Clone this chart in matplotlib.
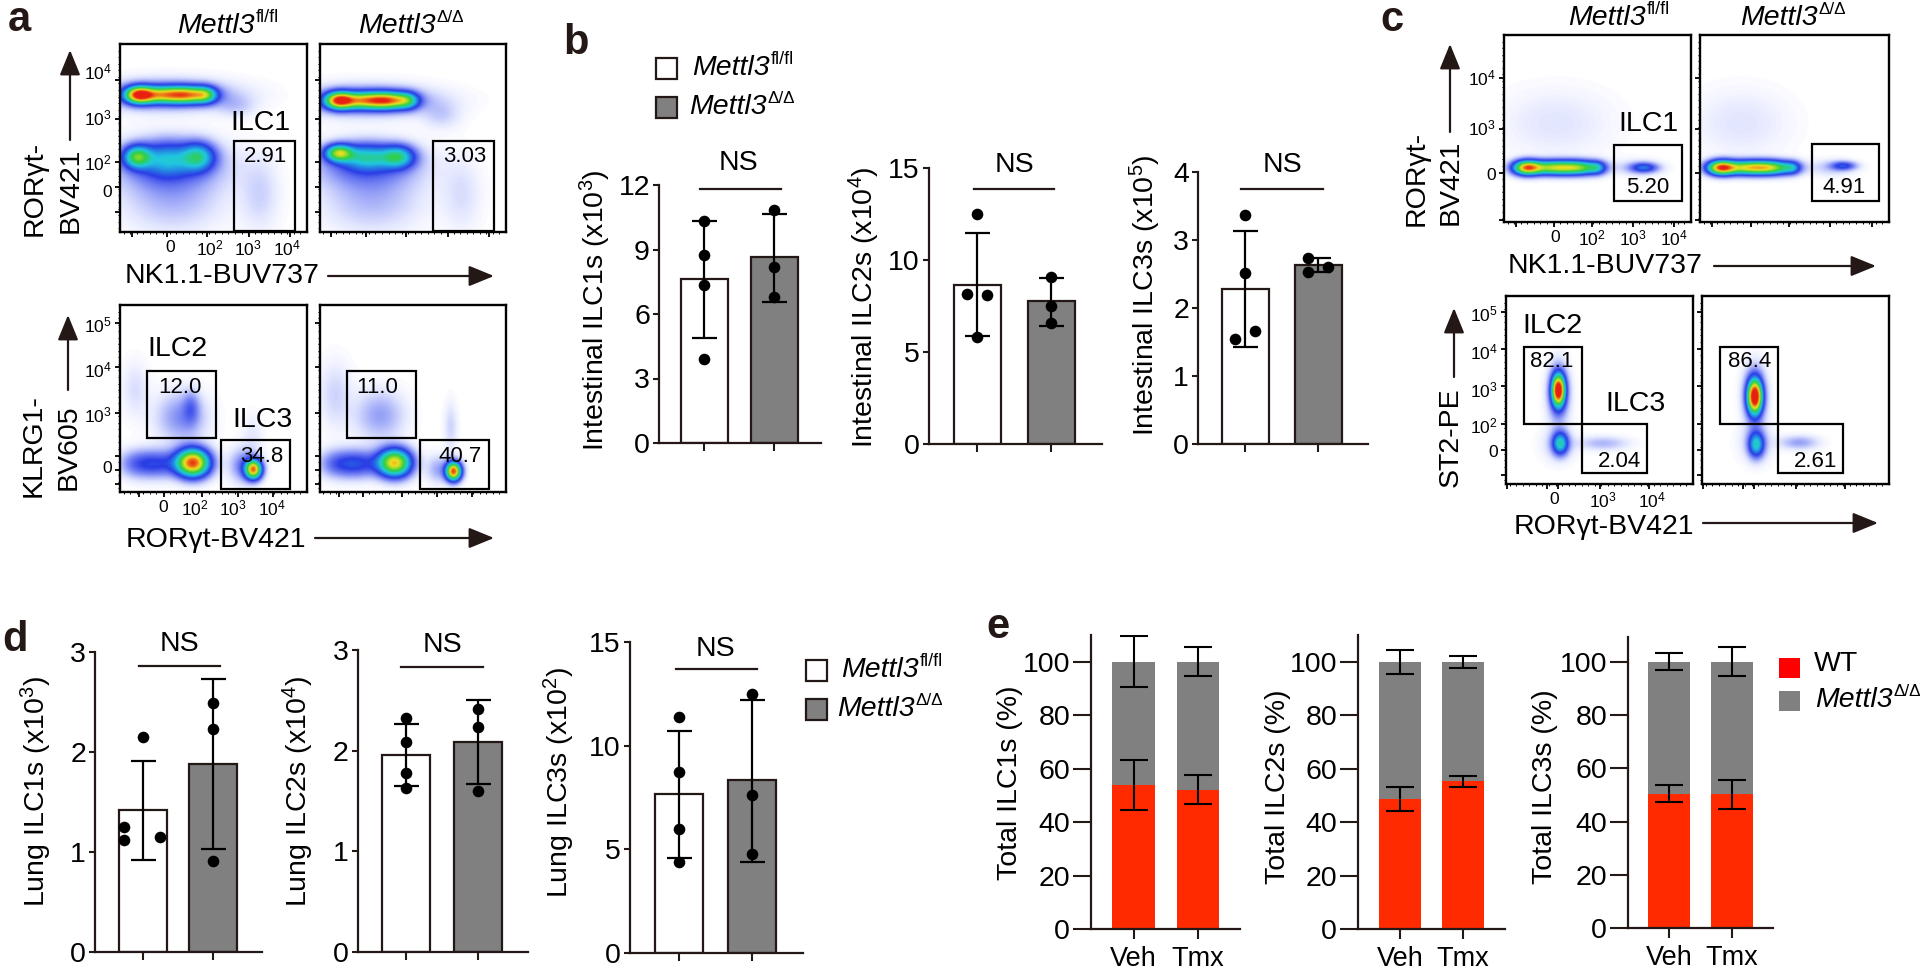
import matplotlib
matplotlib.use('Agg')
import matplotlib.pyplot as plt
import numpy as np
from matplotlib.colors import LinearSegmentedColormap
from matplotlib.patches import Rectangle

plt.rcParams['font.family'] = ['Liberation Sans', 'DejaVu Sans']
plt.rcParams['mathtext.fontset'] = 'custom'
plt.rcParams['mathtext.rm'] = 'Liberation Sans'
plt.rcParams['mathtext.it'] = 'Liberation Sans:italic'
plt.rcParams['mathtext.bf'] = 'Liberation Sans:bold'

W, H = 1920, 974
DARK = '#231815'
GRAY = '#808080'
RED = '#ff2a00'
FS = 20.5

# ---- bar data, panel b (intestine) ----
b_means = [[7.62, 8.63], [8.65, 7.75], [2.28, 2.63]]
b_err_low = [[4.87, 6.58], [5.85, 6.42], [1.42, 2.53]]
b_err_high = [[10.34, 10.63], [11.45, 9.0], [3.13, 2.73]]
b_points = [[[10.34, 8.75, 7.35, 3.89], [10.82, 8.2, 6.8]],
            [[12.5, 8.15, 8.1, 5.8], [9.07, 7.48, 6.57]],
            [[3.37, 2.51, 1.66, 1.54], [2.73, 2.53, 2.6]]]
b_jitter = [[[0, 0, 0, 0], [0, 0, 0]],
            [[0, -0.14, 0.14, 0], [0, 0, 0]],
            [[0, 0, 0.14, -0.14], [-0.14, -0.14, 0.14]]]
b_yticks = [[0, 3, 6, 9, 12], [0, 5, 10, 15], [0, 1, 2, 3, 4]]
b_ylabels = [r'Intestinal ILC1s (x$\mathregular{10^{3}}$)',
             r'Intestinal ILC2s (x$\mathregular{10^{4}}$)',
             r'Intestinal ILC3s (x$\mathregular{10^{5}}$)']

# ---- bar data, panel d (lung) ----
d_means = [[1.417, 1.88], [1.958, 2.087], [7.66, 8.34]]
d_err_low = [[0.923, 1.03], [1.647, 1.667], [4.56, 4.41]]
d_err_high = [[1.91, 2.727], [2.26, 2.507], [10.7, 12.2]]
d_points = [[[2.15, 1.25, 1.117, 1.147], [2.49, 2.23, 0.907]],
            [[2.32, 2.09, 1.776, 1.63], [2.415, 2.24, 1.604]],
            [[11.39, 8.73, 5.97, 4.38], [12.5, 7.6, 4.78]]]
d_jitter = [[[0, -0.26, -0.26, 0.25], [0, 0, 0]],
            [[0, 0, 0, 0], [0, 0, 0]],
            [[0, 0, 0, 0], [0, 0, 0]]]
d_yticks = [[0, 1, 2, 3], [0, 1, 2, 3], [0, 5, 10, 15]]
d_ylabels = [r'Lung ILC1s (x$\mathregular{10^{3}}$)',
             r'Lung ILC2s (x$\mathregular{10^{4}}$)',
             r'Lung ILC3s (x$\mathregular{10^{2}}$)']

# ---- stacked bars, panel e ----
e_groups = ['Veh', 'Tmx']
e_wt = [[53.9, 52.0], [48.6, 55.2], [50.4, 50.2]]
e_wt_low = [[44.4, 46.8], [44.1, 53.0], [47.3, 44.8]]
e_wt_high = [[63.3, 57.6], [53.2, 57.4], [53.7, 55.7]]
e_total_low = [[90.4, 94.5], [95.5, 97.8], [97.0, 94.6]]
e_total_high = [[109.6, 105.6], [104.5, 102.2], [103.3, 105.7]]
e_ylabels = ['Total ILC1s (%)', 'Total ILC2s (%)', 'Total ILC3s (%)']
e_yticks = [0, 20, 40, 60, 80, 100]

# ---- flow plots: populations (centre x, centre y, spread x, spread y, peak), % of frame ----
a_top_fl = [(10, 73, 5, 3, .8), (22, 73, 9, 3, .58), (37, 73, 8, 3, .62), (46, 73, 4, 3, .3),
            (25, 73, 24, 5.5, .16), (62, 67, 7, 4, .05), (9, 40, 5, 4, .5), (25, 39, 9, 6, .25),
            (42, 40, 6, 5, .38), (26, 36, 20, 9, .16), (28, 18, 18, 12, .08), (75, 20, 7, 13, .05)]
a_top_ko = [(10, 70, 5, 3, .75), (22, 70, 9, 3, .58), (37, 70, 8, 3, .68), (47, 70, 4, 3, .25),
            (25, 70, 24, 5.5, .16), (65, 62, 7, 5, .05), (10, 42, 5, 3, .6), (25, 40, 9, 4.5, .32),
            (42, 40, 6, 4, .4), (25, 36, 19, 8, .16), (28, 18, 18, 12, .08), (76, 20, 7, 13, .04)]
a_bot_fl = [(39, 15.5, 6, 5, .95), (19, 15, 9, 5, .22), (7, 15, 6, 5, .08), (33, 40, 9, 9, .12),
            (38, 45, 3, 6, .1), (8, 55, 5, 10, .04), (71.5, 12, 3, 3.5, .85), (66, 14, 5, 6, .14),
            (71, 30, 4, 8, .03)]
a_bot_ko = [(40, 15.5, 6, 5, .8), (19, 15, 9, 5, .24), (7, 15, 6, 5, .08), (32, 41, 9, 9, .1),
            (8, 52, 6, 12, .05), (71.5, 11, 2.8, 3.4, .95), (63, 12, 4, 5, .09), (70, 35, 2.5, 9, .05)]
c_top_fl = [(12, 29, 5, 2.6, .8), (25, 29, 8, 2.6, .6), (40, 29, 8, 2.6, .6), (50, 29, 3, 2.4, .2),
            (75, 29, 5, 1.8, .25), (72, 29, 8, 3, .06), (28, 53, 20, 12, .035)]
c_top_ko = [(11, 29, 5, 2.6, .85), (24, 29, 8, 2.6, .62), (38, 29, 8, 2.6, .62), (49, 29, 3, 2.4, .2),
            (76, 30, 4.5, 1.6, .22), (70, 29, 8, 3, .06), (22, 53, 17, 12, .035)]
c_bot_fl = [(28, 50, 2.3, 5.5, 1.0), (28, 48, 3.8, 10, .2), (29, 21.6, 2.8, 4, .42), (28, 21, 6, 6, .06),
            (52, 21.6, 9, 2.5, .08)]
c_bot_ko = [(28.2, 46.5, 2.6, 6, 1.0), (28.2, 47, 4, 10, .2), (29, 21, 2.8, 4.5, .4), (29, 22, 6, 7, .06),
            (52, 22, 7, 2.5, .1)]

density_cmap = LinearSegmentedColormap.from_list(
    'flow', [(0, '#ffffff'), (.03, '#e4e8ff'), (.12, '#7f8cf5'), (.22, '#2a3ce6'), (.42, '#20c8e0'),
             (.58, '#30d040'), (.78, '#f0e020'), (1, '#e82010')])

fig = plt.figure(figsize=(W / 100, H / 100), dpi=100)


def add_rect(left, right, top, bottom):
    return fig.add_axes([left / W, 1 - bottom / H, (right - left) / W, (bottom - top) / H])


def power(n):
    return r'$\mathregular{10^{%d}}$' % n


def flow_panel(frame, blobs, gates, notes, xticks, yticks, xlabs=None, ylabs=None):
    ax = add_rect(*frame)
    gx, gy = np.meshgrid(np.linspace(0, 100, 400), np.linspace(0, 100, 400))
    dens = np.zeros_like(gx)
    for cx, cy, sx, sy, peak in blobs:
        dens += peak * np.exp(-((gx - cx) / sx) ** 2 / 2 - ((gy - cy) / sy) ** 2 / 2)
    ax.imshow(dens, origin='lower', extent=(0, 100, 0, 100), cmap=density_cmap, vmin=0, vmax=1,
              aspect='auto', interpolation='bilinear')
    for x0, x1, y0, y1 in gates:
        ax.add_patch(Rectangle((x0, y0), x1 - x0, y1 - y0, fill=False, ec='black', lw=1.6))
    for x, y, s, size in notes:
        ax.text(x, y, s, fontsize=size, ha='center', va='center', color='black')
    for s in ax.spines.values():
        s.set_linewidth(1.7)
        s.set_color('black')
    ax.set_xlim(0, 100)
    ax.set_ylim(0, 100)
    ax.set_xticks(xticks)
    ax.set_yticks(yticks)
    ax.set_xticks(np.arange(2, 100, 3.5), minor=True)
    ax.set_yticks(np.arange(2, 100, 3.5), minor=True)
    ax.tick_params(which='major', length=3.5, width=1.3, labelbottom=False, labelleft=False)
    ax.tick_params(which='minor', length=1.5, width=0.7)
    for x, s in (xlabs or []):
        ax.annotate(s, (x, 0), xycoords=('data', 'axes fraction'), xytext=(0, -11.5),
                    textcoords='offset points', ha='center', va='center', fontsize=12.5)
    for y, s in (ylabs or []):
        ax.annotate(s, (0, y), xycoords=('axes fraction', 'data'), xytext=(-6, 0),
                    textcoords='offset points', ha='right', va='center', fontsize=12.5)
    return ax


def style_axis(ax, yticks, ylen):
    for s in ['top', 'right']:
        ax.spines[s].set_visible(False)
    for s in ['left', 'bottom']:
        ax.spines[s].set_linewidth(1.6)
        ax.spines[s].set_color(DARK)
    ax.set_yticks(yticks)
    ax.tick_params(axis='y', length=ylen, width=1.5, labelsize=FS, pad=2, color=DARK)


def bar_panel(left, right, y0, ytop, centers, width, means, low, high, points, jitter, yticks):
    ax = add_rect(left, right, ytop, y0)
    step = centers[1] - centers[0]
    ax.set_xlim((left - centers[0]) / step, (right - centers[0]) / step)
    ax.set_ylim(0, yticks[-1])
    for i, col in enumerate(['white', GRAY]):
        ax.bar(i, means[i], width=width / step, color=col, edgecolor=DARK, linewidth=1.6, zorder=2)
        ax.errorbar(i, means[i], yerr=[[means[i] - low[i]], [high[i] - means[i]]], color='black',
                    elinewidth=1.6, capsize=9, capthick=1.6, zorder=3, clip_on=False)
        ax.scatter(np.array(jitter[i]) + i, points[i], s=70, color='black', zorder=4, clip_on=False, linewidths=0)
    style_axis(ax, yticks, 4.5)
    ax.set_xticks([0, 1])
    ax.set_xticklabels([])
    ax.tick_params(axis='x', length=6, width=1.5, color=DARK)
    return ax


def stack_panel(left, right, y0, ytop, top_value, centers, width, wt, wt_low, wt_high, tot_low, tot_high):
    ax = add_rect(left, right, ytop, y0)
    step = centers[1] - centers[0]
    ax.set_xlim((left - centers[0]) / step, (right - centers[0]) / step)
    ax.set_ylim(0, top_value)
    xs = np.arange(len(e_groups))
    wt = np.array(wt)
    ax.bar(xs, wt, width=width / step, color=RED, zorder=2)
    ax.bar(xs, 100 - wt, bottom=wt, width=width / step, color=GRAY, zorder=2)
    for i in xs:
        ax.errorbar(i, wt[i], yerr=[[wt[i] - wt_low[i]], [wt_high[i] - wt[i]]], color='black',
                    elinewidth=1.5, capsize=10, capthick=1.5, zorder=3)
        ax.errorbar(i, 100, yerr=[[100 - tot_low[i]], [tot_high[i] - 100]], color='black',
                    elinewidth=1.5, capsize=10, capthick=1.5, zorder=3)
    style_axis(ax, e_yticks, 13)
    ax.set_xticks(xs)
    ax.set_xticklabels(e_groups, fontsize=19.5)
    ax.tick_params(axis='x', length=7.5, width=1.5, pad=5, color=DARK)
    return ax


# ---- panel a ----
FR_A = [(120, 307), (319.5, 506)]
a_xt = [6.3, 25, 46.6, 69, 90.8]
a_yt = [81, 60, 37, 24, 10.7]
a_xl = [(26.8, '0'), (48, power(2)), (68.5, power(3)), (89.5, power(4))]
a_yl = [(85, power(4)), (60.5, power(3)), (36.5, power(2)), (21, '0')]
flow_panel((*FR_A[0], 44, 232), a_top_fl, [(61, 93.7, 0.5, 48.4)],
           [(75, 58, 'ILC1', FS), (78, 40, '2.91', 16)], a_xt, a_yt, a_xl, a_yl)
flow_panel((*FR_A[1], 44, 232), a_top_ko, [(61, 93.5, 0.5, 48.4)],
           [(78, 40, '3.03', 16)], a_xt, a_yt)
a2_xt = [10.3, 23.5, 44, 63, 82]
a2_yt = [90.2, 66.7, 42.2, 19, 12, 4.4]
a2_xl = [(23, '0'), (40, power(2)), (60.5, power(3)), (81, power(4))]
a2_yl = [(89, power(5)), (64.8, power(4)), (40.7, power(3)), (12.8, '0')]
flow_panel((*FR_A[0], 305, 492), a_bot_fl, [(14.5, 51.5, 28.8, 64.8), (54, 91, 1.8, 27.6)],
           [(30.5, 76.3, 'ILC2', FS), (32, 56, '12.0', 16), (76, 38.3, 'ILC3', FS), (76, 19, '34.8', 16)],
           a2_xt, a2_yt, a2_xl, a2_yl)
flow_panel((*FR_A[1], 305, 492), a_bot_ko, [(14.5, 51.5, 28.8, 64.8), (54, 91, 1.8, 27.6)],
           [(31, 56, '11.0', 16), (75.4, 19, '40.7', 16)], a2_xt, a2_yt)

# ---- panel c ----
FR_C = [(1504, 1691), (1700, 1889)]
c_xt = [6.5, 27, 47, 69, 91]
c_yt = [77, 50, 26, 1]
c_xl = [(27.4, '0'), (47, power(2)), (69, power(3)), (91, power(4))]
c_yl = [(76.7, power(4)), (50, power(3)), (25, '0')]
flow_panel((*FR_C[0], 35, 222), c_top_fl, [(59, 95, 11.4, 41.4)],
           [(77.5, 52.4, 'ILC1', FS), (76.6, 18.7, '5.20', 16)], c_xt, c_yt, c_xl, c_yl)
flow_panel((*FR_C[1], 35, 222), c_top_ko, [(59.2, 94.9, 11.4, 41.9)],
           [(76.5, 18.7, '4.91', 16)], c_xt, c_yt)
c2_xt = [0.8, 22, 28, 50, 76.7]
c2_yt = [91.3, 71.8, 52, 31.7, 18, 4.8]
c2_xl = [(26, '0'), (52, power(3)), (78, power(4))]
c2_yl = [(90, power(5)), (70, power(4)), (49.5, power(3)), (30.5, power(2)), (16.8, '0')]
c_gates = [(9.5, 40.5, 31.7, 73), (40.5, 75.2, 5.7, 31.7)]
flow_panel((1506, 1693, 296, 484), c_bot_fl, c_gates,
           [(25, 84, 'ILC2', FS), (24.6, 65, '82.1', 16), (69.5, 42.5, 'ILC3', FS), (60.5, 12, '2.04', 16)],
           c2_xt, c2_yt, c2_xl, c2_yl)
flow_panel((1702, 1889, 296, 484), c_bot_ko, c_gates,
           [(25.5, 65, '86.4', 16), (60.5, 12, '2.61', 16)], c2_xt, c2_yt)

# ---- panel b ----
b_geom = [(659, 821, 443, 185, (704, 774)), (929, 1102, 444, 168, (977, 1051)), (1198, 1368, 444, 172, (1245, 1318))]
for i, (l, r, y0, yt, cen) in enumerate(b_geom):
    bar_panel(l, r, y0, yt, cen, 47, b_means[i], b_err_low[i], b_err_high[i], b_points[i], b_jitter[i], b_yticks[i])

# ---- panel d ----
d_geom = [(95, 262, 952, 652, (142.5, 213)), (357.5, 528, 952, 650, (406, 478)), (630, 803, 953, 642, (679, 752))]
for i, (l, r, y0, yt, cen) in enumerate(d_geom):
    bar_panel(l, r, y0, yt, cen, 48, d_means[i], d_err_low[i], d_err_high[i], d_points[i], d_jitter[i], d_yticks[i])

# ---- panel e ----
e_geom = [(1091, 1240, 929, 635, 110, (1133.5, 1198)), (1358, 1505, 929, 635, 110, (1400, 1463)),
          (1628, 1773, 928, 637, 109.3, (1669, 1732))]
for i, (l, r, y0, yt, tv, cen) in enumerate(e_geom):
    stack_panel(l, r, y0, yt, tv, cen, 42.5, e_wt[i], e_wt_low[i], e_wt_high[i], e_total_low[i], e_total_high[i])

# ---- everything placed by pixel on top ----
ov = fig.add_axes([0, 0, 1, 1], zorder=10)
ov.set_xlim(0, W)
ov.set_ylim(H, 0)
ov.axis('off')


def label(x, y, s, rot=0, ha='center', size=FS, **kw):
    return ov.text(x, y, s, rotation=rot, ha=ha, va='center', fontsize=size, color=kw.pop('color', 'black'), **kw)


def mettl3(x, y, sup, sup_size):
    # italic name with a superscript hung off its top right corner
    t = label(x, y, 'Mettl3', ha='left', style='italic')
    ov.annotate(sup, xy=(1, 1), xycoords=t, xytext=(0.5, -3), textcoords='offset points',
                ha='left', va='center', fontsize=sup_size, color='black')


def arrow(x0, y0, x1, y1):
    ov.annotate('', xy=(x1, y1), xytext=(x0, y0),
                arrowprops=dict(arrowstyle='-|>,head_length=1.1,head_width=0.45', color=DARK, lw=1.6,
                                mutation_scale=14, shrinkA=0, shrinkB=0))


FL, KO = 'fl/fl', '\u0394/\u0394'

for x, y, s in [(8, 20, 'a'), (563, 43, 'b'), (1380, 20, 'c'), (2, 640, 'd'), (986, 627, 'e')]:
    label(x, y, s, ha='left', size=30, fontweight='bold', color=DARK)

# panel a labels
mettl3(177, 26, FL, 13)
mettl3(358, 26, KO, 12.3)
label(35, 188, 'ROR\u03b3t-', rot=90)
label(71, 190, 'BV421', rot=90)
arrow(70, 140, 70, 50)
label(125, 276, 'NK1.1-BUV737', ha='left')
arrow(328, 276, 494, 276)
label(34, 446, 'KLRG1-', rot=90)
label(69, 447, 'BV605', rot=90)
arrow(68, 390, 68, 315)
label(126, 540, 'ROR\u03b3t-BV421', ha='left')
arrow(315, 538, 494, 538)

# panel c labels
mettl3(1568, 18, FL, 13)
mettl3(1740, 18, KO, 12.3)
label(1417, 178, 'ROR\u03b3t-', rot=90)
label(1451, 182, 'BV421', rot=90)
arrow(1450, 132, 1450, 44)
label(1508, 266, 'NK1.1-BUV737', ha='left')
arrow(1714, 266, 1876, 266)
label(1451, 437, 'ST2-PE', rot=90)
arrow(1454, 377, 1454, 308)
label(1514, 527, 'ROR\u03b3t-BV421', ha='left')
arrow(1703, 523, 1878, 523)

# y axis titles and NS marks
for (x, y), s in zip([(595, 310), (864, 307), (1145, 295)], b_ylabels):
    label(x, y, s, rot=90)
for (x, y), s in zip([(36, 792), (298, 792), (559, 783)], d_ylabels):
    label(x, y, s, rot=90)
for (x, y), s in zip([(1010, 783), (1278, 787), (1545, 787)], e_ylabels):
    label(x, y, s, rot=90)
for x, xa, xb, yl, yt in [(738, 700, 781, 189, 163), (1014, 974, 1054, 189, 165), (1282, 1241, 1323, 189, 165),
                          (179, 139, 220, 666, 644), (442, 401, 483, 667, 645), (715, 676, 757, 669, 649)]:
    label(x, yt, 'NS')
    ov.plot([xa, xb], [yl, yl], color=DARK, lw=1.6)

# legends
for px, ys, tx in [(656, (58, 97), (692, 689)), (806, (660, 699), (841, 837))]:
    ov.add_patch(Rectangle((px, ys[0]), 21, 21, fc='white', ec=DARK, lw=1.6))
    ov.add_patch(Rectangle((px, ys[1]), 21, 21, fc=GRAY, ec=DARK, lw=1.6))
    mettl3(tx[0], ys[0] + 10, FL, 13)
    mettl3(tx[1], ys[1] + 10, KO, 12.3)
ov.add_patch(Rectangle((1779, 658), 21, 20, fc='#ff0000', ec='none'))
ov.add_patch(Rectangle((1779, 691), 21, 20, fc=GRAY, ec='none'))
label(1814, 664, 'WT', ha='left')
mettl3(1815, 700, KO, 12.3)

fig.savefig('out.png', dpi=100)
